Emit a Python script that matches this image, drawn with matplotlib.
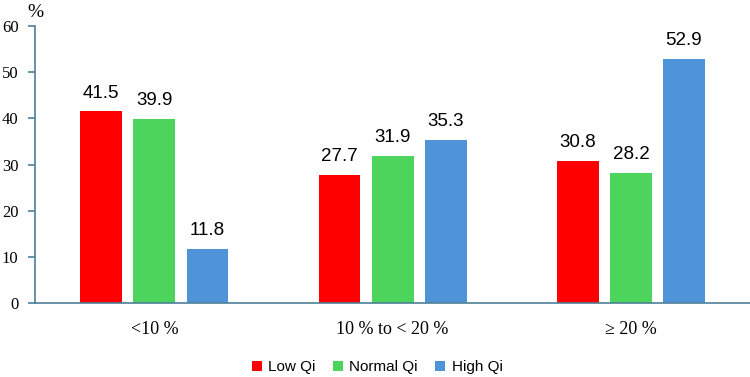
import matplotlib
matplotlib.use("Agg")
import matplotlib.pyplot as plt
import numpy as np

categories = ["<10 %", "10 % to < 20 %", "\u2265 20 %"]
series_names = ["Low Qi", "Normal Qi", "High Qi"]
low_qi = [41.5, 27.7, 30.8]
normal_qi = [39.9, 31.9, 28.2]
high_qi = [11.8, 35.3, 52.9]
yticks = [0, 10, 20, 30, 40, 50, 60]

colors = ["#FF0000", "#4CD45C", "#4F93D8"]
axis_color = "#4D7F96"
serif = ["Liberation Serif", "DejaVu Serif"]
sans = ["Liberation Sans", "DejaVu Sans"]

fig = plt.figure(figsize=(7.5, 3.77), dpi=100)
ax = fig.add_axes([0.047, 0.196, 0.953, 0.735])

x = np.arange(len(categories))
width = 0.176
step = 0.223
for i, (vals, name, c) in enumerate(zip([low_qi, normal_qi, high_qi], series_names, colors)):
    pos = x + (i - 1) * step
    ax.bar(pos, vals, width, color=c, label=name)
    for p, v in zip(pos, vals):
        ax.annotate(f"{v:.1f}", (p, v), xytext=(0, 7), textcoords="offset points",
                    ha="center", va="bottom", fontsize=13.5, family=sans)

ax.set_xlim(-0.5, 2.5)
ax.set_ylim(0, 60)
ax.set_yticks(yticks)
ax.set_yticklabels([str(t) for t in yticks], family=serif, fontsize=12)
ax.set_xticks(x)
ax.set_xticklabels(categories, family=serif, fontsize=13)
ax.tick_params(axis="x", length=0, pad=13)
ax.tick_params(axis="y", length=5, color=axis_color, width=1.2, pad=7)
for s in ["top", "right"]:
    ax.spines[s].set_visible(False)
for s in ["left", "bottom"]:
    ax.spines[s].set_color(axis_color)
    ax.spines[s].set_linewidth(1.2)

fig.text(35 / 750, 1 - 17 / 377, "%", ha="center", va="baseline",
         fontsize=14, family=serif)

fig.legend(loc="center", bbox_to_anchor=(377 / 750, 1 - 367 / 377), ncol=3, frameon=False,
           prop={"family": sans, "size": 11},
           handlelength=0.65, handleheight=0.65, handletextpad=0.45, columnspacing=1.1)

fig.savefig("out.png", dpi=100)
